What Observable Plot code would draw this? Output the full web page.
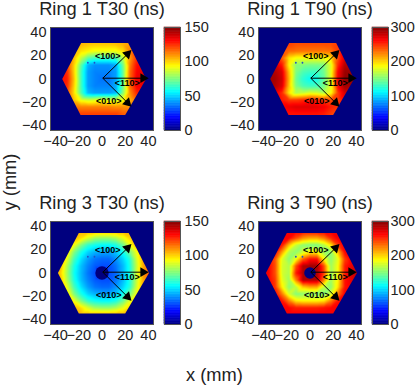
<!DOCTYPE html>
<html>
<head>
<meta charset="utf-8">
<script src="https://cdn.jsdelivr.net/npm/d3@7"></script>
<script src="https://cdn.jsdelivr.net/npm/@observablehq/plot@0.6"></script>
<style>
html,body{margin:0;padding:0;background:#fff;}
#page{position:relative;width:415px;height:385px;overflow:hidden;font-family:"Liberation Sans",sans-serif;color:#222;}
#page svg{position:absolute;overflow:visible;}
.lab{position:absolute;font-size:18.3px;white-space:nowrap;line-height:1;}
</style>
</head>
<body>
<div id="page"></div>
<script>
const gridX = [-42,-36,-30,-24,-18,-12,-6,0,6,12,18,24,30,36,42];
const gridY = [36,30,24,18,12,6,0,-6,-12,-18,-24,-30,-36];

const ring1T30 = [
[110,110,110,108,105,103,102,102,102,103,105,108,110,110,110],
[110,110,110,108,105,103,102,102,102,103,105,108,110,110,110],
[115,115,110,105,98,95,92,92,92,92,98,112,118,118,118],
[125,125,118,103,85,70,65,65,65,66,82,108,125,125,125],
[128,128,122,100,70,45,40,40,40,44,72,112,130,132,130],
[130,130,125,100,66,42,38,38,38,42,70,115,132,135,132],
[130,130,127,102,66,42,38,36,36,42,70,116,134,136,132],
[130,130,125,100,66,42,38,38,38,44,72,115,132,134,130],
[128,128,120,98,68,46,42,42,42,46,76,110,126,125,125],
[122,122,116,102,90,86,88,90,88,86,92,105,115,115,115],
[120,120,118,114,112,112,112,112,112,110,110,110,112,112,112],
[122,122,122,122,122,122,122,122,122,122,118,116,116,116,116],
[122,122,122,122,122,122,122,122,122,122,118,116,116,116,116]];

const ring1T90 = [
[250,250,250,250,245,240,240,240,240,240,240,245,250,250,250],
[250,250,250,250,245,240,240,240,240,240,240,245,250,250,250],
[255,255,250,240,232,230,228,228,228,228,230,245,262,262,262],
[270,270,262,235,195,185,185,185,185,185,195,240,275,275,275],
[285,285,278,255,190,152,150,148,148,150,178,250,285,285,280],
[290,290,285,272,205,150,135,130,130,145,180,262,292,292,285],
[292,292,288,276,210,145,125,115,118,140,180,265,295,295,285],
[290,290,285,272,205,150,135,130,132,146,180,262,290,288,280],
[285,285,270,250,195,165,170,178,175,165,185,245,275,275,275],
[270,270,260,255,245,245,250,255,252,245,240,245,260,260,260],
[262,262,262,265,268,272,272,272,270,265,255,248,245,245,245],
[255,255,255,258,258,258,258,258,258,255,245,238,235,235,235],
[255,255,255,258,258,258,258,258,258,255,245,238,235,235,235]];

const ring3T30 = [
[105,105,105,105,105,105,105,105,105,105,105,105,105,105,105],
[105,105,105,105,98,88,80,78,78,82,90,100,105,105,105],
[108,108,105,92,75,63,58,56,56,60,72,90,105,105,105],
[108,108,98,75,60,50,45,43,43,48,58,74,92,105,108],
[108,108,90,66,52,42,36,34,34,40,50,62,88,108,110],
[108,105,82,60,47,38,32,30,30,36,46,60,86,108,112],
[105,102,80,58,46,36,30,15,30,34,46,60,88,112,118],
[108,105,82,60,47,38,32,30,30,36,46,60,86,108,112],
[108,108,90,66,52,42,36,34,34,40,50,62,88,108,110],
[108,108,98,75,60,50,45,43,43,48,58,74,92,105,108],
[108,108,105,92,75,63,58,56,56,60,72,90,105,105,105],
[105,105,105,105,98,88,80,78,78,82,90,100,105,105,105],
[105,105,105,105,105,105,105,105,105,105,105,105,105,105,105]];

const ring3T90 = [
[265,265,265,265,265,265,262,262,262,265,265,268,268,268,268],
[265,265,265,265,262,240,220,212,212,225,250,265,268,268,268],
[265,265,265,255,205,170,155,150,150,165,195,245,268,268,268],
[265,265,262,215,165,155,175,190,190,160,155,205,262,268,268],
[265,265,238,178,155,185,235,258,258,190,155,180,245,268,270],
[265,265,240,175,165,240,285,290,290,240,160,185,255,270,275],
[265,265,240,175,165,255,285,285,285,245,160,185,255,275,285],
[265,265,245,180,160,225,285,285,285,225,160,190,258,270,275],
[265,265,248,190,155,170,205,215,215,170,155,195,258,268,270],
[265,265,262,225,175,152,155,155,155,152,175,225,265,268,268],
[265,265,265,258,225,195,190,190,190,195,225,258,268,268,268],
[265,265,265,265,262,255,255,255,255,258,262,265,268,268,268],
[265,265,265,265,265,265,265,265,265,265,265,268,268,268,268]];

const hexRing1X = [-34.3,-18,22.6,38,20,-18.5];
const hexRing1Y = [0,31,31,0,-31,-31];
const hexRing3X = [-38,-20,23,40.5,20,-20];
const hexRing3Y = [0,34.5,34.5,0,-35,-35];

const arrowLabels = ["<100>","<110>","<010>"];
const arrowTipX = [22,35.5,22];
const arrowTipY = [21.5,0.7,-20.5];
const arrowAngle = [45,90,135];
const labelX = [5,21.7,5.9];
const labelY = [19.7,-3.3,-19.4];
const speckX = [-12.2,-6.5];
const speckY = [14,14];

const axisTicks = [-40,-20,0,20,40];
const ticks150 = [0,50,100,150];
const ticks300 = [0,100,200,300];
const jetStops = [0,0.125,0.375,0.625,0.875,1];
const jetColors = ["#00007f","#0000ff","#00ffff","#ffff00","#ff0000","#7f0000"];
const colorbarLevels = d3.range(64);

const font = '"Liberation Sans",sans-serif';
const ink = "#222";
const page = document.getElementById("page");

function colorOpt(max){
  return {type:"linear",domain:jetStops.map(s=>s*max),range:jetColors,interpolate:"rgb",clamp:true};
}

let clipId = 0;
function hexClip(hx,hy){
  return function(index,scales,values,dims,ctx,next){
    const g = next(index,scales,values,dims,ctx);
    const ns = "http://www.w3.org/2000/svg";
    const id = "hex"+(++clipId);
    const cp = document.createElementNS(ns,"clipPath");
    cp.setAttribute("id",id);
    const poly = document.createElementNS(ns,"polygon");
    poly.setAttribute("points",hx.map((x,i)=>scales.x(x)+","+scales.y(hy[i])).join(" "));
    cp.appendChild(poly);
    const wrap = document.createElementNS(ns,"g");
    wrap.appendChild(cp);
    wrap.appendChild(g);
    g.setAttribute("clip-path","url(#"+id+")");
    return wrap;
  };
}

function panel(cfg){
  const table = [];
  cfg.values.forEach((row,j)=>row.forEach((v,i)=>table.push({x:gridX[i],y:gridY[j],v})));
  const arrows = arrowLabels.map((t,i)=>({t,x:arrowTipX[i],y:arrowTipY[i],a:arrowAngle[i],lx:labelX[i],ly:labelY[i]}));
  const specks = speckX.map((x,i)=>({x,y:speckY[i]}));
  const marks = [
    Plot.frame({fill:"#00007f"}),
    Plot.raster(table,{x:"x",y:"y",fill:"v",interpolate:"barycentric",render:hexClip(cfg.hx,cfg.hy)}),
    Plot.dot(specks,{x:"x",y:"y",r:0.9,fill:"#2050c8"})
  ];
  if(cfg.hole) marks.push(Plot.dot([{x:0,y:0}],{x:"x",y:"y",r:cfg.hole,fill:"#00007f"}));
  marks.push(
    Plot.link(arrows,{x1:()=>0.7,y1:()=>0.7,x2:"x",y2:"y",stroke:"#000",strokeWidth:1}),
    Plot.dot(arrows,{x:"x",y:"y",symbol:"triangle",rotate:"a",r:3.6,fill:"#000"}),
    Plot.text(arrows,{x:"lx",y:"ly",text:"t",fontSize:9,fontWeight:"bold",fill:"#000"}),
    Plot.frame({stroke:"#555",strokeWidth:1,fill:"none"}),
    Plot.axisX({ticks:axisTicks,tickSize:0,tickPadding:5,label:null}),
    Plot.axisY({ticks:axisTicks,tickSize:0,tickPadding:4,label:null}),
    Plot.text([cfg.title],{text:d=>d,frameAnchor:"top",lineAnchor:"bottom",dy:-12.5,fontSize:18.3,fill:ink})
  );
  const main = Plot.plot({
    width:160,height:153,marginLeft:50,marginRight:7,marginTop:27,marginBottom:23,
    style:{fontFamily:font,fontSize:"14.5px",color:ink,background:"none"},
    x:{domain:[-44.4,44.4]},
    y:{domain:[-44.4,44.4]},
    color:colorOpt(cfg.max),
    marks
  });
  main.style.left = cfg.left+"px";
  main.style.top = cfg.top+"px";
  page.appendChild(main);

  const step = cfg.max/64;
  const levels = colorbarLevels.map(i=>({y1:i*step,y2:(i+1)*step,v:(i+0.5)*step}));
  const bar = Plot.plot({
    width:50,height:153,marginLeft:0,marginRight:34,marginTop:27,marginBottom:23,
    style:{fontFamily:font,fontSize:"14.5px",color:ink,background:"none"},
    x:{domain:[0,1],axis:null},
    y:{domain:[0,cfg.max]},
    color:colorOpt(cfg.max),
    marks:[
      Plot.rect(levels,{x1:()=>0,x2:()=>1,y1:"y1",y2:"y2",fill:"v",stroke:"v",strokeWidth:0.6}),
      Plot.frame({stroke:"#555",strokeWidth:1,fill:"none"}),
      Plot.axisY({anchor:"right",ticks:cfg.barTicks,tickSize:0,tickPadding:cfg.barPad,label:null})
    ]
  });
  bar.style.left = cfg.barLeft+"px";
  bar.style.top = cfg.top+"px";
  page.appendChild(bar);
}

panel({title:"Ring 1 T30 (ns)",values:ring1T30,max:150,barTicks:ticks150,barPad:4,hx:hexRing1X,hy:hexRing1Y,left:0,top:0,barLeft:164});
panel({title:"Ring 1 T90 (ns)",values:ring1T90,max:300,barTicks:ticks300,barPad:2,hx:hexRing1X,hy:hexRing1Y,left:208,top:0,barLeft:372});
panel({title:"Ring 3 T30 (ns)",values:ring3T30,max:150,barTicks:ticks150,barPad:4,hx:hexRing3X,hy:hexRing3Y,hole:6.7,left:0,top:194,barLeft:164});
panel({title:"Ring 3 T90 (ns)",values:ring3T90,max:300,barTicks:ticks300,barPad:2,hx:hexRing3X,hy:hexRing3Y,hole:5.8,left:208,top:194,barLeft:372});

const xl = document.createElement("div");
xl.className="lab"; xl.textContent="x (mm)";
xl.style.left="186px"; xl.style.top="366px";
page.appendChild(xl);
const yl = document.createElement("div");
yl.className="lab"; yl.textContent="y (mm)";
yl.style.left="10px"; yl.style.top="182px"; yl.style.transform="translate(-50%,-50%) rotate(-90deg)";
page.appendChild(yl);
</script>
</body>
</html>
